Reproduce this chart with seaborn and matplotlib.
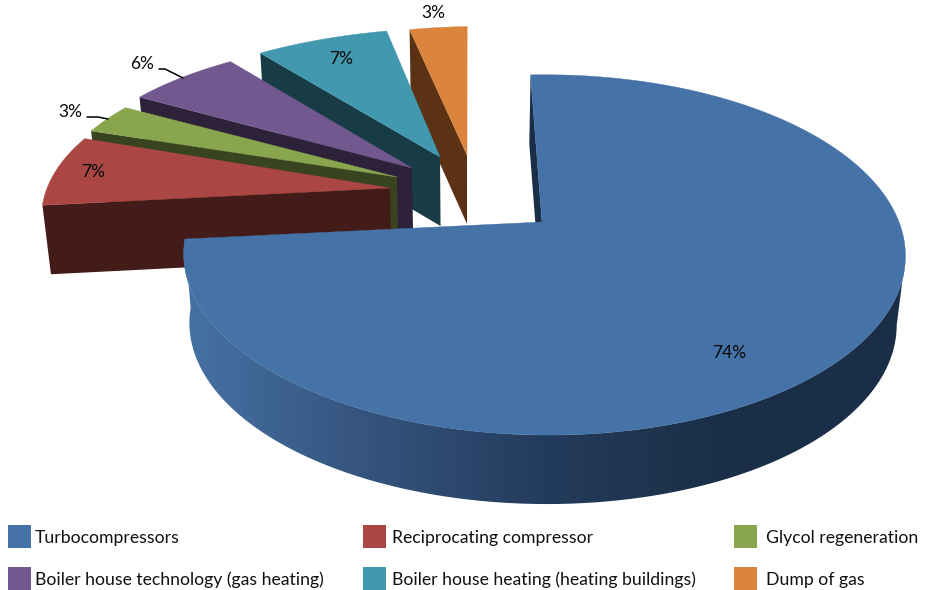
import numpy as np
import matplotlib
matplotlib.use("Agg")
import matplotlib.pyplot as plt
from matplotlib.colors import ListedColormap
from matplotlib.patches import Polygon, Rectangle
import seaborn as sns

# Energy use by consumer, percent
categories = ["Turbocompressors", "Reciprocating compressor", "Glycol regeneration",
              "Boiler house technology (gas heating)", "Boiler house heating (heating buildings)",
              "Dump of gas"]
shares = [74, 7, 3, 6, 7, 3]
top_colors = ["#4572A7", "#AA4643", "#89A54E", "#71588F", "#4198AF", "#DB843D"]
wall_colors = ["#1A2F47", "#431B18", "#38431F", "#2D2239", "#183C46", "#5B3314"]

# Where each slice's tip sits on the canvas after being pulled out of the pie
tips = [(542, 222), (390, 188), (397, 177), (412, 168), (440, 157), (467, 155)]
arc_gain = [1.0, 1.0, 1.012, 1.02, 1.0, 1.0]
arc_lift = [0, 1, 3, 0, 0, 0]
label_pos = [(729, 353), (93, 172), (70, 112), (142, 64), (341, 59), (433, 13)]
legend_x = [8, 363, 734, 8, 363, 734]
legend_y = [525, 525, 525, 567, 567, 567]
leaders = {2: [(87, 117), (98, 117), (108, 119)], 3: [(159, 69), (165, 69), (183, 78)]}

sns.set_theme(style="white")
plt.rcParams["font.family"] = ["Lato", "DejaVu Sans"]

# Perspective of the pie's plane
VP_X, HALF_W, HALF_H, TILT, CY, SHEAR = 468.0, 354.5, 174.0, 0.183, 222.0, 6.0
DEPTH, BASE_SHRINK = 69.0, 0.98


def to_screen(u, v, offset=74.0):
    w = 1 + TILT * v
    return VP_X + (offset + HALF_W * u) / w, CY - HALF_H * v / w


def to_plane(x, y):
    s = CY - y
    v = s / (HALF_H - TILT * s)
    u = ((x - VP_X) * (1 + TILT * v) - 74.0) / HALF_W
    return u, v


def drop(x, y):
    return VP_X + (x - VP_X) * BASE_SHRINK, y + DEPTH


fig = plt.figure(figsize=(9.26, 5.9), dpi=100)
ax = fig.add_axes([0, 0, 1, 1])

edges = np.cumsum([0] + shares) / sum(shares) * 2 * np.pi
rim_cmap = ListedColormap(sns.blend_palette(["#4672A4", "#35547E", "#243C5C", "#1A2F47", "#1A2F47"], 256))

# Painted from the back of the pie to the front, so the large slice goes last
for i in [5, 4, 3, 2, 1, 0]:
    t = np.linspace(edges[i], edges[i + 1], max(24, shares[i] * 6))
    u0, v0 = to_plane(*tips[i])
    arc_x, arc_y = to_screen(u0 + np.sin(t), v0 + np.cos(t))
    tip_x, tip_y = tips[i]
    arc_y = arc_y - SHEAR * np.sin(t) + arc_lift[i]
    if i > 0:
        # Pulled-out slices keep more of their width towards the back
        arc_x = tip_x + (arc_x - tip_x) * (1.01 + 0.08 * np.cos(t)) * arc_gain[i]
    layer = 20 - i * 2

    # Cut face along the slice's leading radius
    wall = [(arc_x[0], arc_y[0]), drop(arc_x[0], arc_y[0]), drop(tip_x, tip_y), (tip_x, tip_y)]
    ax.add_patch(Polygon(wall, closed=True, fc=wall_colors[i], ec="none", zorder=layer))

    # Rim of the big slice, from its rightmost point round the front, shaded left to right
    if i == 0:
        r = int(np.argmax(arc_x))
        base_x, base_y = drop(arc_x, arc_y)
        rim = np.column_stack([np.r_[arc_x[r:], base_x[r:][::-1]], np.r_[arc_y[r:], base_y[r:][::-1]]])
        rim_patch = Polygon(rim, closed=True, fc="none", ec="none", transform=ax.transData)
        ax.add_patch(rim_patch)
        shade = ax.imshow(np.linspace(0, 1, 256)[None, :], cmap=rim_cmap, aspect="auto",
                          extent=(183, 904, 590, 0), zorder=layer, interpolation="bilinear")
        shade.set_clip_path(rim_patch)

    outline = [(tip_x, tip_y)] + list(zip(arc_x, arc_y))
    ax.add_patch(Polygon(outline, closed=True, fc=top_colors[i], ec=top_colors[i], lw=0.3,
                         zorder=layer + 1))

ax.set_xlim(0, 926)
ax.set_ylim(590, 0)
ax.axis("off")

# Percentage labels and their leader lines
for share, (lx, ly) in zip(shares, label_pos):
    ax.text(lx, ly, f"{share}%", ha="center", va="center", fontsize=12.5, color="#0a0a0a", zorder=40)
for pts in leaders.values():
    xs, ys = zip(*pts)
    ax.plot(xs, ys, color="black", lw=1.1, zorder=39)

# Legend, laid out in two rows of three
for name, color, x, y in zip(categories, top_colors, legend_x, legend_y):
    ax.add_patch(Rectangle((x, y), 23, 23, fc=color, ec="none", zorder=40))
    ax.text(x + (32 if x > 700 else 27 if x < 100 else 29), y + 13, name, ha="left", va="center",
            fontsize=12.7, color="#111111", zorder=40)

fig.savefig("out.png", dpi=100)
